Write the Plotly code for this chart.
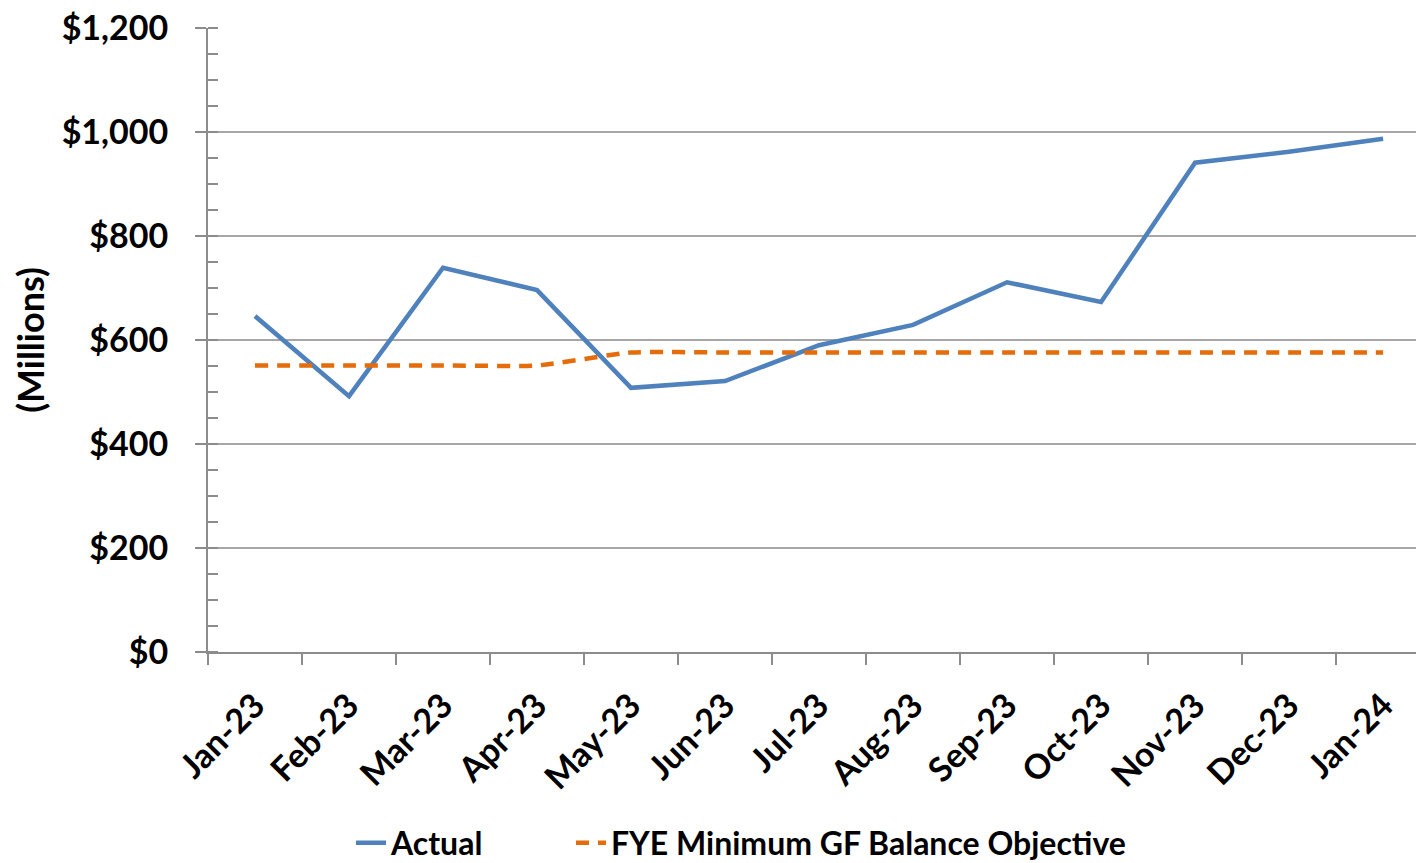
import plotly.graph_objects as go

months = ["Jan-23", "Feb-23", "Mar-23", "Apr-23", "May-23", "Jun-23", "Jul-23",
          "Aug-23", "Sep-23", "Oct-23", "Nov-23", "Dec-23", "Jan-24"]
actual = [646, 492, 739, 696, 508, 521, 590, 629, 711, 673, 941, 962, 987]
objective = [551, 551, 551, 551, 576, 576, 576, 576, 576, 576, 576, 576, 576]

FONT = "Lato"
GRID = "#A6A6A6"
AXIS = "#8C8C8C"

W, H = 1416, 863
L, T = 208, 28
PW, PH = W - L, 624


def px(xpage):
    return (xpage - L) / PW


def py(ypage):
    return (T + PH - ypage) / PH


legend_font = dict(family=FONT, size=32, weight="bold")

fig = go.Figure()
fig.add_trace(go.Scatter(
    x=months, y=actual, name="Actual", mode="lines", legend="legend",
    line=dict(color="#4F81BD", width=4.5)))
fig.add_trace(go.Scatter(
    x=months, y=objective, name="FYE Minimum GF Balance Objective", mode="lines", legend="legend2",
    line=dict(color="#E46C0A", width=4.5, dash="13px,9px", shape="spline", smoothing=0.5)))

fig.update_layout(
    width=W, height=H,
    margin=dict(l=L, r=0, t=T, b=H - T - PH, autoexpand=False),
    plot_bgcolor="white", paper_bgcolor="white",
    font=dict(family=FONT, color="black"),
    showlegend=True,
    legend=dict(orientation="h", x=px(351), xanchor="left", y=py(843), yanchor="middle",
                font=legend_font, bgcolor="rgba(0,0,0,0)"),
    legend2=dict(orientation="h", x=px(571), xanchor="left", y=py(843), yanchor="middle",
                 font=legend_font, bgcolor="rgba(0,0,0,0)"),
)
fig.update_xaxes(
    type="category", range=[-0.5, 12.35], automargin=False,
    showline=True, linecolor=AXIS, linewidth=2,
    ticks="outside", ticklen=11, tickcolor=AXIS, tickwidth=2,
    tickson="boundaries", showgrid=False,
    ticklabelstandoff=18,
    tickangle=-45, tickfont=dict(family=FONT, size=34, weight="bold"),
)
fig.update_yaxes(
    range=[0, 1200], dtick=200, tickprefix="$", tickformat=",", automargin=False,
    showline=True, linecolor=AXIS, linewidth=2,
    showgrid=True, gridcolor=GRID, gridwidth=1.5, zeroline=False,
    ticks="outside", ticklen=11, tickcolor=AXIS, tickwidth=2,
    ticklabelstandoff=20,
    minor=dict(dtick=50, ticks="inside", ticklen=10, tickcolor=AXIS, tickwidth=1.5, showgrid=False),
    tickfont=dict(family=FONT, size=34, weight="bold"),
    title=dict(text="(Millions)", font=dict(family=FONT, size=36, weight="bold"), standoff=6),
)

fig.write_html("out.html", config={"displayModeBar": False},
               post_script="document.body.style.margin='0';")
